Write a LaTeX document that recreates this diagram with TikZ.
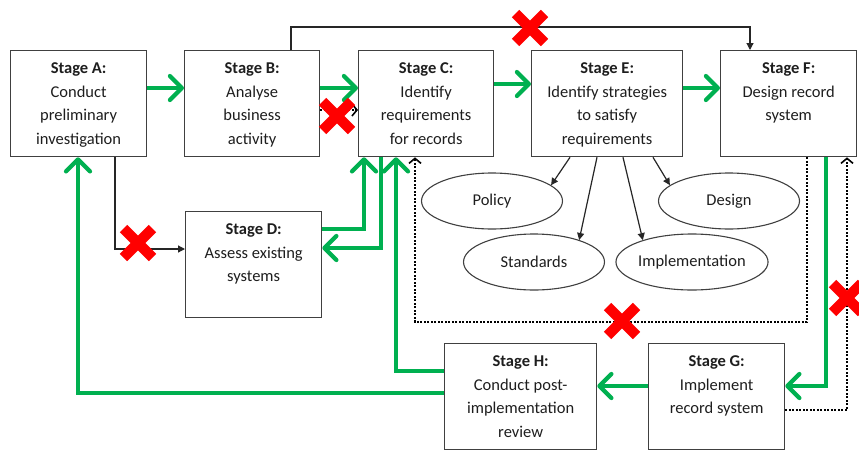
\documentclass[tikz,border=0pt]{standalone}
\usepackage{fontspec}
\setmainfont{Carlito}
\usetikzlibrary{arrows.meta,shapes.geometric}
\definecolor{flowgreen}{RGB}{0,176,80}
\definecolor{boxline}{RGB}{64,64,64}
\definecolor{txt}{RGB}{30,30,30}
\definecolor{xred}{RGB}{255,0,0}
\begin{document}
\begin{tikzpicture}[x=1pt,y=-1pt,
  stagebox/.style={draw=boxline, line width=1.3pt, anchor=north west, inner sep=0pt,
    minimum height=106pt, minimum width=#1},
  stagetext/.style={anchor=north, align=center, inner sep=0pt, text=txt,
    font=\fontsize{16.5}{23.5}\selectfont},
  ovalnode/.style={ellipse, draw=boxline, line width=1.1pt, minimum width=141pt,
    minimum height=56pt, inner sep=0pt, text=txt, font=\fontsize{16.5}{20}\selectfont},
  greenflow/.style={draw=flowgreen, line width=4.2pt, -{Straight Barb[length=12pt,width=24pt,round]}},
  blackflow/.style={draw=black!85, line width=1.2pt, -{Triangle[length=7pt,width=7pt]}},
  dotflow/.style={draw=black, line width=2.6pt, dash pattern=on 2pt off 1.5pt,
    -{Straight Barb[length=5pt,width=12pt,line width=1.6pt]}},
  redx/.pic={\draw[xred, line width=10.5pt] (-14.5,-14.5) -- (14.5,14.5) (-14.5,14.5) -- (14.5,-14.5);}
]
\useasboundingbox (0,0) rectangle (859,450);
\fill[white] (0,0) rectangle (859,450);

% stage boxes
\node[stagebox=136pt] (A) at (10,50) {};
\node[stagebox=135pt] (B) at (184,50) {};
\node[stagebox=135pt] (C) at (358,50) {};
\node[stagebox=151pt] (E) at (531,50) {};
\node[stagebox=136pt] (F) at (720,50) {};
\node[stagebox=136pt] (D) at (185,211) {};
\node[stagebox=152pt] (H) at (444,343) {};
\node[stagebox=136pt] (G) at (648,343) {};

% stage captions
\node[stagetext] (At) at ([yshift=-12.5pt]A.north) {\textbf{Stage A:}\\Conduct\\preliminary\\investigation};
\node[stagetext] (Bt) at ([yshift=-12.5pt]B.north) {\textbf{Stage B:}\\Analyse\\business\\activity};
\node[stagetext] (Ct) at ([yshift=-12.5pt]C.north) {\textbf{Stage C:}\\Identify\\requirements\\for records};
\node[stagetext] (Et) at ([yshift=-12.5pt]E.north) {\textbf{Stage E:}\\Identify strategies\\to satisfy\\requirements};
\node[stagetext] (Ft) at ([yshift=-12.5pt]F.north) {\textbf{Stage F:}\\Design record\\system};
\node[stagetext] (Dt) at ([yshift=-12.5pt]D.north) {\textbf{Stage D:}\\Assess existing\\systems};
\node[stagetext] (Ht) at ([yshift=-12.5pt]H.north) {\textbf{Stage H:}\\Conduct post-\\implementation\\review};
\node[stagetext] (Gt) at ([yshift=-12.5pt]G.north) {\textbf{Stage G:}\\Implement\\record system};

% strategy ovals
\node[ovalnode] (pol) at (492,201) {Policy};
\node[ovalnode] (des) at (729,201) {Design};
\node[ovalnode] (std) at (534,262) {Standards};
\node[ovalnode] (imp) at (692,262) {Implementation};

% routing levels and columns
\coordinate (yAB) at (0,88);
\coordinate (yCE) at (0,84);
\coordinate (yBCdot) at (0,110);
\coordinate (xTopB) at (291,0);
\coordinate (topL) at (291,27);
\coordinate (topR) at (750,27);
\coordinate (xA1) at (115,0);
\coordinate (yD0) at (0,249);
\coordinate (yD1) at (0,229);
\coordinate (yD2) at (0,248);
\coordinate (xC1) at (364,0);
\coordinate (xC2) at (381,0);
\coordinate (xC3) at (396,0);
\coordinate (yH1) at (0,371);
\coordinate (yH2) at (0,393);
\coordinate (xA2) at (78,0);
\coordinate (xF2) at (826,0);
\coordinate (yG1) at (0,386);
\coordinate (xF1) at (807,0);
\coordinate (dotLL) at (415,322);
\coordinate (yG2) at (0,410);
\coordinate (xF3) at (847,0);
\coordinate (xE1) at (570,0);
\coordinate (xE2) at (597,0);
\coordinate (xE3) at (623,0);
\coordinate (xE4) at (653,0);

% main green flow
\draw[greenflow] (A.east |- yAB) -- (B.west |- yAB);
\draw[greenflow] (B.east |- yAB) -- (C.west |- yAB);
\draw[greenflow] (C.east |- yCE) -- (E.west |- yCE);
\draw[greenflow] (E.east |- yAB) -- (F.west |- yAB);
\draw[greenflow] (D.east |- yD1) -| (C.south -| xC1);
\draw[greenflow] (C.south -| xC2) |- (D.east |- yD2);
\draw[greenflow] (H.west |- yH1) -| (C.south -| xC3);
\draw[greenflow] (H.west |- yH2) -| (A.south -| xA2);
\draw[greenflow] (F.south -| xF2) |- (G.east |- yG1);
\draw[greenflow] (G.west |- yG1) -- (H.east |- yG1);

% black links
\draw[blackflow] (B.north -| xTopB) -- (topL) -- (topR) -- (F.north -| topR);
\draw[blackflow] (A.south -| xA1) |- (D.west |- yD0);
\draw[blackflow] (E.south -| xE1) -- (pol.15);
\draw[blackflow] (E.south -| xE2) -- (std.26);
\draw[blackflow] (E.south -| xE3) -- (imp.156);
\draw[blackflow] (E.south -| xE4) -- (des.165);

% dotted feedback
\draw[dotflow] (B.east |- yBCdot) -- (C.west |- yBCdot);
\draw[dotflow] (F.south -| xF1) |- (dotLL) -- (C.south -| dotLL);
\draw[dotflow] (G.east |- yG2) -| (F.south -| xF3);

% crossed-out routes
\pic at (337,116) {redx};
\pic at (530,28) {redx};
\pic at (138,243) {redx};
\pic at (622,321) {redx};
\pic at (847,298) {redx};
\end{tikzpicture}
\end{document}
